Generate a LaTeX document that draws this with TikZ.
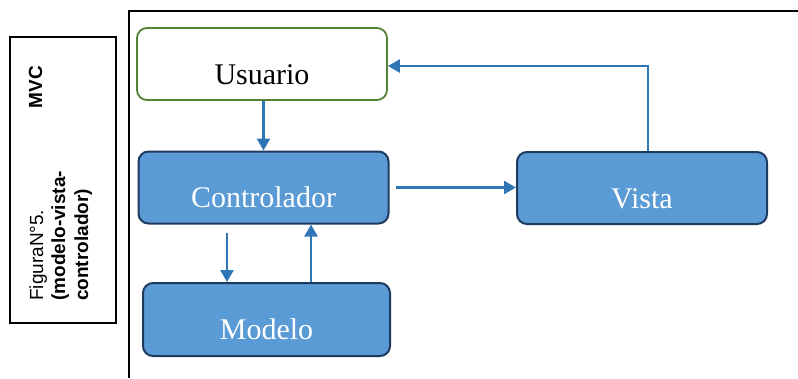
\documentclass[tikz,border=0pt]{standalone}
\usepackage{fontspec}
\setmainfont{Liberation Serif}
\newfontfamily\labelfont{Liberation Sans}
\usetikzlibrary{arrows.meta}
\definecolor{boxfill}{HTML}{5B9BD5}
\definecolor{boxline}{HTML}{1F3A5F}
\definecolor{arrowblue}{HTML}{2E75B6}
\definecolor{usergreen}{HTML}{548235}
\begin{document}
\begin{tikzpicture}[x=1pt,y=-1pt,
  basebox/.style={rounded corners=10pt, minimum width=250pt, minimum height=72pt,
    inner sep=0pt, text height=40pt, text depth=0pt,
    font=\fontsize{30}{36}\selectfont},
  userbox/.style={basebox, draw=usergreen, line width=1.8pt, fill=white, text=black},
  mvcbox/.style={basebox, draw=boxline, line width=2pt, fill=boxfill, text=white},
  arr/.style={draw=arrowblue, line width=2.4pt,
    -{Triangle[length=12pt,width=13pt]}, arrowblue},
  sidetext/.style={rotate=90, inner sep=0pt},
  sideplain/.style={sidetext, font=\labelfont\fontsize{19}{22}\selectfont},
  sidebold/.style={sidetext, font=\labelfont\bfseries\fontsize{19}{22}\selectfont},
]
\useasboundingbox (0,0) rectangle (798,378);

% caption box on the left
\draw[line width=1.4pt] (10,37) rectangle (116,323);
\node[sideplain, anchor=base west] (fig) at (43,301) {FiguraN°5.};
\node[sidebold, anchor=base east] (mvc) at (42,66) {MVC};
\node[sidebold, anchor=base west] (line2) at (65,301) {(modelo-vista-};
\node[sidebold, anchor=base west] (line3) at (88,301) {controlador)};

% frame around the diagram
\draw[line width=2.2pt] (798,11) -- (129,11) -- (129,378);

% components
\node[userbox] (usuario) at (262,64) {Usuario};
\node[mvcbox] (controlador) at (263.5,187.5) {Controlador};
\node[mvcbox, minimum width=247pt, minimum height=73pt] (modelo) at (266.5,319.5) {Modelo};
\node[mvcbox] (vista) at (642,188) {Vista};
\coordinate (bend) at (648,66);

% connectors
\draw[arr] (usuario.south -| controlador.north) -- (controlador.north);
\draw[arr] ([xshift=-36.5pt,yshift=-8pt]controlador.south) -- ([xshift=-36.5pt]controlador.south |- modelo.north);
\draw[arr] ([xshift=47.5pt]controlador.south |- modelo.north) -- ([xshift=47.5pt]controlador.south);
\draw[arr] ([xshift=6pt]controlador.east) -- (vista.west |- controlador.east);
\draw[arr] (bend |- vista.north) -- (bend) -- (usuario.east |- bend);
\end{tikzpicture}
\end{document}
